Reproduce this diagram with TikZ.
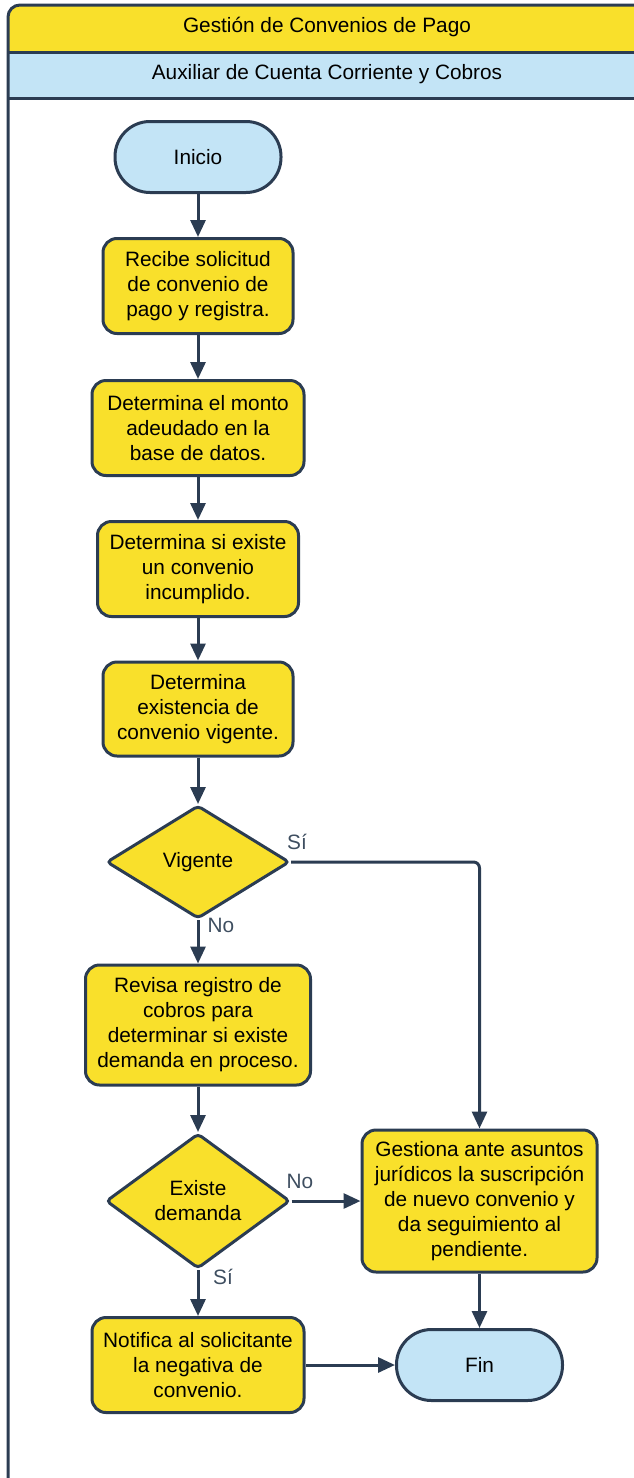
\documentclass[tikz,border=0pt]{standalone}
\usepackage{fontspec}
\setmainfont{Liberation Sans}
\usetikzlibrary{arrows.meta,shapes.geometric,calc}

\definecolor{lanecol}{HTML}{C3E4F6}
\definecolor{procyel}{HTML}{F9E02B}
\definecolor{edgecol}{HTML}{2B3C52}
\definecolor{lblcol}{HTML}{3E4E60}

\tikzset{
  every node/.style={font=\fontsize{20.8}{25}\selectfont},
  proc/.style={draw=edgecol, fill=procyel, line width=3pt, rounded corners=14pt,
               align=center, inner sep=0pt, text=black},
  term/.style={draw=edgecol, fill=lanecol, line width=3pt, rounded corners=35pt,
               align=center, inner sep=0pt, text=black,
               minimum width=166pt, minimum height=71pt},
  decis/.style={diamond, draw=edgecol, fill=procyel, line width=3pt, rounded corners=4pt,
                align=center, inner sep=0pt, aspect=1.6, text=black},
  flow/.style={draw=edgecol, line width=3pt, -{Triangle[length=17pt,width=15pt]}},
  lbl/.style={text=lblcol, inner sep=0pt}
}

\begin{document}
\begin{tikzpicture}[x=1pt,y=-1pt]
\useasboundingbox (0,0) rectangle (633,1478);

% pool frame with title band and lane band
\begin{scope}
  \clip[rounded corners=12pt] (8,1500) -- (8,5) -- (700,5) -- (700,1500) -- cycle;
  \fill[procyel] (0,0) rectangle (700,52);
  \fill[lanecol] (0,52) rectangle (700,98);
\end{scope}
\draw[edgecol, line width=3pt] (8,52) -- (700,52);
\draw[edgecol, line width=3pt] (8,98) -- (700,98);
\draw[edgecol, line width=3pt, rounded corners=12pt] (8,1500) -- (8,5) -- (700,5) -- (700,1500);

\node (pooltitle) at (327,27) {Gestión de Convenios de Pago};
\node (lanetitle) at (327,74) {Auxiliar de Cuenta Corriente y Cobros};

% flow nodes
\node[term] (inicio) at (198,157) {Inicio};
\node[proc, minimum width=190pt, minimum height=95pt] (recibe) at (198,286)
  {Recibe solicitud\\de convenio de\\pago y registra.};
\node[proc, minimum width=212pt, minimum height=95pt] (monto) at (198,428)
  {Determina el monto\\adeudado en la\\base de datos.};
\node[proc, minimum width=201pt, minimum height=95pt] (incumple) at (198,569)
  {Determina si existe\\un convenio\\incumplido.};
\node[proc, minimum width=190pt, minimum height=94pt] (existencia) at (198,709)
  {Determina\\existencia de\\convenio vigente.};
\node[decis, minimum width=183pt, minimum height=113pt] (vigente) at (198,862) {Vigente};
\node[proc, minimum width=225pt, minimum height=120pt] (revisa) at (198,1025)
  {Revisa registro de\\cobros para\\determinar si existe\\demanda en proceso.};
\node[decis, minimum width=184pt, minimum height=135pt] (demanda) at (198,1201) {Existe\\demanda};
\node[proc, minimum width=235pt, minimum height=142pt] (gestiona) at (479.5,1201)
  {Gestiona ante asuntos\\jurídicos la suscripción\\de nuevo convenio y\\da seguimiento al\\pendiente.};
\node[proc, minimum width=212pt, minimum height=95pt] (notifica) at (198,1365)
  {Notifica al solicitante\\la negativa de\\convenio.};
\node[term] (fin) at (479.5,1365) {Fin};

% connectors
\draw[flow] (inicio) -- (recibe);
\draw[flow] (recibe) -- (monto);
\draw[flow] (monto) -- (incumple);
\draw[flow] (incumple) -- (existencia);
\draw[flow] (existencia) -- (vigente);
\draw[flow, rounded corners=6pt] (vigente.east) -- (vigente.east -| gestiona.north) -- (gestiona.north);
\draw[flow] (vigente) -- (revisa);
\draw[flow] (revisa) -- (demanda);
\draw[flow] (demanda.east) -- (gestiona.west);
\draw[flow] (demanda) -- (notifica);
\draw[flow] (notifica) -- (fin);
\draw[flow] (gestiona) -- (fin);

% branch labels
\node[lbl] (vsi) at (297,842) {Sí};
\node[lbl] (vno) at (221,925) {No};
\node[lbl] (dno) at (300,1181) {No};
\node[lbl] (dsi) at (223,1277) {Sí};
\end{tikzpicture}
\end{document}
